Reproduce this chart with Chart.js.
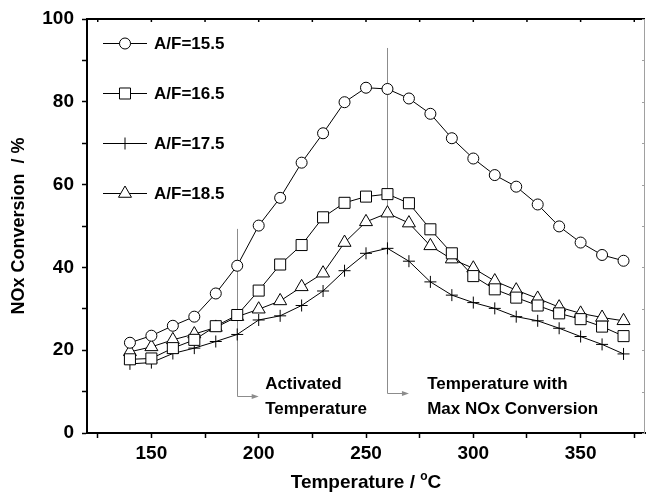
<!DOCTYPE html>
<html>
<head>
<meta charset="utf-8">
<script src="https://cdn.jsdelivr.net/npm/chart.js@4.4.1/dist/chart.umd.min.js"></script>
<style>
  html, body { margin: 0; padding: 0; background: #fff; overflow: hidden; }
  canvas { display: block; }
</style>
</head>
<body>
<canvas id="myChart" width="646" height="498"></canvas>
<script>
// NOx conversion vs temperature for four A/F ratios
const temps = [140, 150, 160, 170, 180, 190, 200, 210, 220, 230, 240, 250,
               260, 270, 280, 290, 300, 310, 320, 330, 340, 350, 360, 370];
const af155 = [21.8, 23.5, 25.9, 28.1, 33.7, 40.4, 50.1, 56.8, 65.3, 72.4, 79.9, 83.4,
               83.1, 80.8, 77.1, 71.2, 66.3, 62.3, 59.5, 55.2, 49.9, 46.0, 43.0, 41.6];
const af165 = [17.8, 18.0, 20.5, 22.5, 25.8, 28.5, 34.4, 40.7, 45.4, 52.1, 55.6, 57.1,
               57.7, 55.5, 49.2, 43.4, 37.9, 34.7, 32.7, 30.8, 28.9, 27.5, 25.7, 23.4];
const af175 = [16.7, 17.0, 19.2, 20.5, 22.1, 23.8, 27.3, 28.3, 30.8, 34.3, 39.2, 43.4,
               44.6, 41.5, 36.5, 33.3, 31.5, 30.1, 28.1, 27.1, 25.3, 23.3, 21.4, 19.1];
const af185 = [19.6, 20.8, 22.5, 23.9, 25.5, 28.1, 29.9, 31.9, 35.3, 38.6, 46.0, 51.0,
               53.1, 50.7, 45.2, 42.0, 39.8, 36.7, 34.5, 32.5, 30.4, 28.9, 27.9, 27.1];
const seriesLabels = ['A/F=15.5', 'A/F=16.5', 'A/F=17.5', 'A/F=18.5'];

// annotation markers (temperature, top and bottom of the guide line, in data units)
const markTemps = [190, 260];
const markTop = [49.3, 93];
const markBottom = [9, 9.7];
const markText = [['Activated', 'Temperature'], ['Temperature with', 'Max NOx Conversion']];
const markTextX = [203, 278.5];
const markTextY = [11.8, 11.8];

const FONT = '"Liberation Sans", Arial, Helvetica, sans-serif';

(() => {
  const canvas = document.getElementById('myChart');
  if (!canvas) return;

  const styles = [
    { pointStyle: 'circle', radius: 5.5 },
    { pointStyle: 'rect', radius: 7.8 },
    { pointStyle: 'cross', radius: 6 },
    { pointStyle: 'triangle', radius: 7.5 }
  ];
  const values = [af155, af165, af175, af185];

  const datasets = values.map((vals, i) => ({
    label: seriesLabels[i],
    data: temps.map((t, k) => ({ x: t, y: vals[k] })),
    borderColor: '#000',
    borderWidth: 1,
    pointStyle: styles[i].pointStyle,
    pointRadius: styles[i].radius,
    pointBorderColor: '#000',
    pointBackgroundColor: '#fff',
    pointBorderWidth: 1,
    tension: 0,
    fill: false
  }));

  const guides = {
    id: 'guides',
    beforeDatasetsDraw(chart) {
      const { ctx, scales: { x, y } } = chart;
      ctx.save();
      ctx.strokeStyle = '#8c8c8c';
      ctx.fillStyle = '#8c8c8c';
      ctx.lineWidth = 1;
      markTemps.forEach((t, i) => {
        const px = Math.round(x.getPixelForValue(t)) + 0.5;
        const yTop = y.getPixelForValue(markTop[i]);
        const yBot = Math.round(y.getPixelForValue(markBottom[i])) + 0.5;
        const xEnd = x.getPixelForValue(t + 10);
        ctx.beginPath();
        ctx.moveTo(px, yTop);
        ctx.lineTo(px, yBot);
        ctx.lineTo(xEnd - 6, yBot);
        ctx.stroke();
        ctx.beginPath();
        ctx.moveTo(xEnd, yBot);
        ctx.lineTo(xEnd - 7, yBot - 2.5);
        ctx.lineTo(xEnd - 7, yBot + 2.5);
        ctx.closePath();
        ctx.fill();
      });
      ctx.restore();
    },
    afterDraw(chart) {
      const { ctx, chartArea: a, scales: { x, y } } = chart;
      ctx.save();
      // top and right frame
      ctx.strokeStyle = '#000';
      ctx.lineWidth = 2;
      ctx.beginPath();
      ctx.moveTo(a.left - 1, a.top);
      ctx.lineTo(a.right, a.top);
      ctx.stroke();
      ctx.strokeStyle = '#a0a0a0';
      ctx.lineWidth = 1;
      ctx.beginPath();
      ctx.moveTo(a.right - 0.5, a.top);
      ctx.lineTo(a.right - 0.5, a.bottom);
      ctx.stroke();
      // inner ticks on the top and right edges
      ctx.strokeStyle = '#000';
      ctx.lineWidth = 1.5;
      x.ticks.forEach(tk => {
        const px = x.getPixelForValue(tk.value);
        ctx.beginPath();
        ctx.moveTo(px, a.top);
        ctx.lineTo(px, a.top + 3);
        ctx.stroke();
      });
      ctx.strokeStyle = '#a0a0a0';
      ctx.lineWidth = 1;
      y.ticks.forEach(tk => {
        const py = Math.round(y.getPixelForValue(tk.value)) + 0.5;
        ctx.beginPath();
        ctx.moveTo(a.right, py);
        ctx.lineTo(a.right - 3, py);
        ctx.stroke();
      });

      // annotation texts
      ctx.fillStyle = '#000';
      ctx.font = 'bold 17px ' + FONT;
      ctx.textAlign = 'left';
      ctx.textBaseline = 'middle';
      markText.forEach((lines, i) => {
        const px = x.getPixelForValue(markTextX[i]);
        ctx.fillText(lines[0], px, y.getPixelForValue(markTextY[i]));
        ctx.fillText(lines[1], px, y.getPixelForValue(markTextY[i]) + 25);
      });

      // legend
      chart.data.datasets.forEach((ds, i) => {
        const ly = 43 + i * 50;
        ctx.strokeStyle = '#000';
        ctx.lineWidth = 1;
        ctx.beginPath();
        ctx.moveTo(103, ly + 0.5);
        ctx.lineTo(147, ly + 0.5);
        ctx.stroke();
        ctx.fillStyle = '#fff';
        Chart.helpers.drawPoint(ctx, {
          pointStyle: ds.pointStyle, radius: ds.pointRadius, borderWidth: 1, rotation: 0
        }, 125, ly + 0.5);
        ctx.fillStyle = '#000';
        ctx.font = 'bold 17px ' + FONT;
        ctx.textBaseline = 'middle';
        ctx.fillText(ds.label, 154, ly + 1);
      });

      // x axis title with superscript o
      const main = 'Temperature / ';
      ctx.font = 'bold 19px ' + FONT;
      const w1 = ctx.measureText(main).width;
      const w3 = ctx.measureText('C').width;
      ctx.font = 'bold 12px ' + FONT;
      const w2 = ctx.measureText('o').width;
      const cx = (a.left + a.right) / 2;
      let tx = cx - (w1 + w2 + w3) / 2;
      const base = 488;
      ctx.textBaseline = 'alphabetic';
      ctx.font = 'bold 19px ' + FONT;
      ctx.fillText(main, tx, base);
      tx += w1;
      ctx.font = 'bold 12px ' + FONT;
      ctx.fillText('o', tx, base - 8);
      tx += w2;
      ctx.font = 'bold 19px ' + FONT;
      ctx.fillText('C', tx, base);
      ctx.restore();
    }
  };

  new Chart(canvas, {
    type: 'line',
    data: { datasets },
    options: {
      responsive: false,
      animation: false,
      devicePixelRatio: 1,
      layout: { autoPadding: false, padding: { top: 19, right: 1, left: 0, bottom: 0 } },
      plugins: {
        legend: { display: false },
        tooltip: { enabled: false }
      },
      scales: {
        x: {
          type: 'linear',
          min: 120,
          max: 380,
          afterFit: s => { s.height = 65; s.paddingLeft = 0; s.paddingRight = 0; },
          border: { color: '#000', width: 2 },
          grid: { drawOnChartArea: false, tickLength: 5, tickWidth: 1.5, tickColor: '#000' },
          ticks: {
            stepSize: 25,
            includeBounds: false,
            autoSkip: false,
            maxRotation: 0,
            padding: 4,
            color: '#000',
            font: { family: FONT, size: 19, weight: 'bold' },
            callback: v => (v % 50 === 0 ? String(v) : '')
          }
        },
        y: {
          min: 0,
          max: 100,
          afterFit: s => { s.width = 87; s.paddingTop = 0; s.paddingBottom = 0; },
          border: { color: '#000', width: 2 },
          grid: { drawOnChartArea: false, tickLength: 5, tickWidth: 1.5, tickColor: '#000' },
          ticks: {
            stepSize: 10,
            autoSkip: false,
            padding: 8,
            color: '#000',
            font: { family: FONT, size: 19, weight: 'bold' },
            callback: v => (v % 20 === 0 ? String(v) : '')
          },
          title: {
            display: true,
            text: 'NOx Conversion  / %',
            color: '#000',
            padding: { top: 8, bottom: 0 },
            font: { family: FONT, size: 18, weight: 'bold' }
          }
        }
      }
    },
    plugins: [guides]
  });
})();
</script>
</body>
</html>
